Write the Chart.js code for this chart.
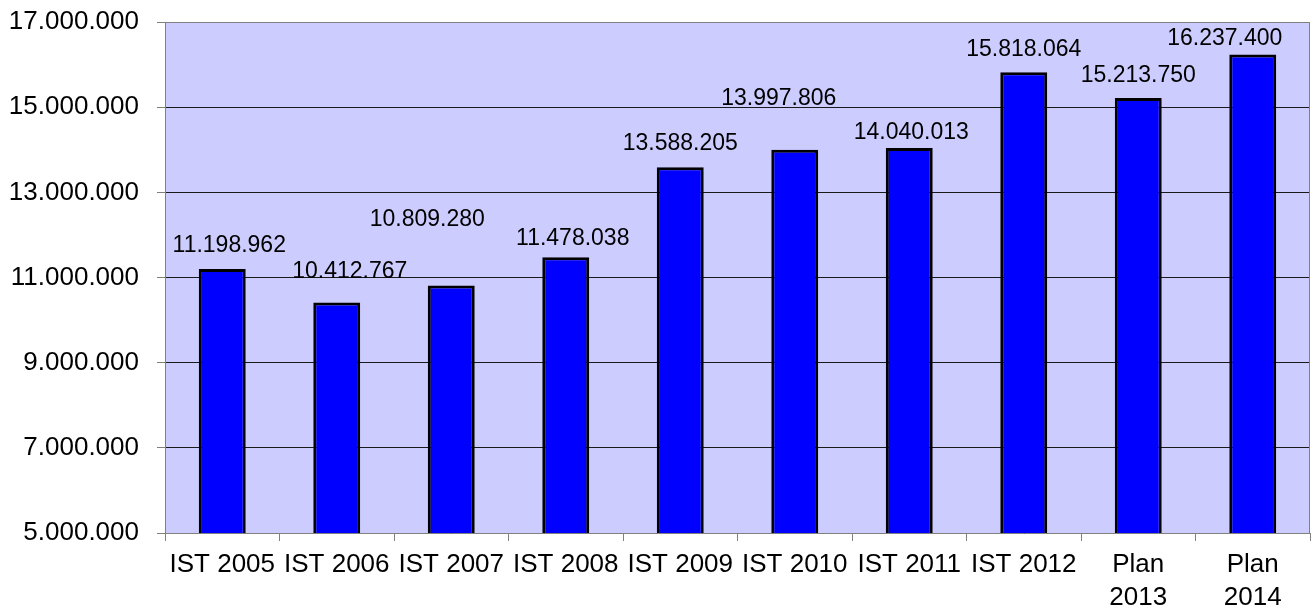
<!DOCTYPE html>
<html>
<head>
<meta charset="utf-8">
<script src="https://cdn.jsdelivr.net/npm/chart.js@4/dist/chart.umd.min.js"></script>
<style>
    html, body { margin: 0; padding: 0; background: #ffffff; }
    #wrap { width: 1316px; height: 606px; }
</style>
</head>
<body>
<div id="wrap"><canvas id="barChart"></canvas></div>
<script>
//The categories along the bottom. The plan years are split over two lines like in the original.
const categories = ['IST 2005', 'IST 2006', 'IST 2007', 'IST 2008', 'IST 2009', 'IST 2010', 'IST 2011', 'IST 2012', ['Plan', '2013'], ['Plan', '2014']];

//The bar values.
const values = [11198962, 10412767, 10809280, 11478038, 13588205, 13997806, 14040013, 15818064, 15213750, 16237400];

//The y axis tick values.
const yTicks = [5000000, 7000000, 9000000, 11000000, 13000000, 15000000, 17000000];

//German number format, dots as thousands separator.
function formatDE(n) {
    return String(Math.round(n)).replace(/\B(?=(\d{3})+(?!\d))/g, '.');
}

const fontName = '"Liberation Sans", Arial, sans-serif';

//The value labels in the original were moved around by hand, so each one gets a little shift (x, pixels above the bar top).
const labelShift = [[7, 17], [13, 25], [-24, 60], [7, 12], [0, 17], [-16, 45], [2, 9], [0, 16], [0, 16], [-28, 9]];

//Plugin for the lavender plot background and the grey frame round it.
const plotFrame = {
    id: 'plotFrame',
    beforeDraw(chart) {
        const a = chart.chartArea;
        const c = chart.ctx;
        c.save();
        c.fillStyle = '#ccccff';
        c.fillRect(a.left, a.top, a.right - a.left, a.bottom - a.top);
        c.restore();
    },
    afterDraw(chart) {
        const a = chart.chartArea;
        const c = chart.ctx;
        c.save();
        c.strokeStyle = '#808080';
        c.lineWidth = 1;
        c.beginPath();
        c.moveTo(a.left, a.top + 0.5);
        c.lineTo(a.right - 0.5, a.top + 0.5);
        c.lineTo(a.right - 0.5, a.bottom);
        c.stroke();
        c.restore();
    }
};

//Plugin that writes the value above each bar.
const valueLabels = {
    id: 'valueLabels',
    afterDatasetsDraw(chart) {
        const c = chart.ctx;
        const meta = chart.getDatasetMeta(0);
        c.save();
        c.font = '23px ' + fontName;
        c.fillStyle = '#000000';
        c.textAlign = 'center';
        c.textBaseline = 'alphabetic';
        meta.data.forEach((bar, i) => {
            const s = labelShift[i] || [0, 12];
            c.fillText(formatDE(values[i]), bar.x + s[0], bar.y - s[1]);
        });
        c.restore();
    }
};

const ctx = document.getElementById('barChart').getContext('2d');

let barChart = new Chart(ctx, {
    type: 'bar',
    data: {
        labels: categories,
        datasets: [{
            data: values,
            backgroundColor: '#0000ff',
            borderColor: '#000000',
            borderWidth: 3,
            borderSkipped: false,
            barPercentage: 0.41,
            categoryPercentage: 1.0
        }]
    },
    options: {
        responsive: true,
        maintainAspectRatio: false,
        animation: false,
        layout: {
            padding: { top: 22, right: 6, left: 0, bottom: 0 }
        },
        plugins: {
            legend: { display: false },
            tooltip: { enabled: false }
        },
        scales: {
            y: {
                min: 5000000,
                max: 17000000,
                afterBuildTicks: (scale) => {
                    scale.ticks = yTicks.map(v => ({ value: v }));
                },
                //Fixed axis width, and no extra room above the plot for the top tick label.
                afterFit: (scale) => {
                    scale.width = 165;
                    scale.paddingTop = 0;
                    scale.paddingBottom = 0;
                },
                ticks: {
                    color: '#000000',
                    padding: 18,
                    font: { family: fontName, size: 26 },
                    callback: (v) => formatDE(v)
                },
                grid: {
                    color: (c) => (c.tick && c.tick.value === 17000000) ? '#808080' : '#1a1a1a',
                    tickColor: '#808080',
                    tickLength: 8,
                    lineWidth: 1
                },
                border: { color: '#808080', width: 1 }
            },
            x: {
                afterFit: (scale) => {
                    scale.height = 73;
                    scale.paddingLeft = 0;
                    scale.paddingRight = 0;
                },
                ticks: {
                    color: '#000000',
                    padding: 8,
                    maxRotation: 0,
                    autoSkip: false,
                    font: { family: fontName, size: 26, lineHeight: 1.25 }
                },
                grid: {
                    offset: true,
                    drawOnChartArea: false,
                    tickColor: '#808080',
                    tickLength: 8
                },
                border: { color: '#808080', width: 1 }
            }
        }
    },
    plugins: [plotFrame, valueLabels]
});
</script>
</body>
</html>
